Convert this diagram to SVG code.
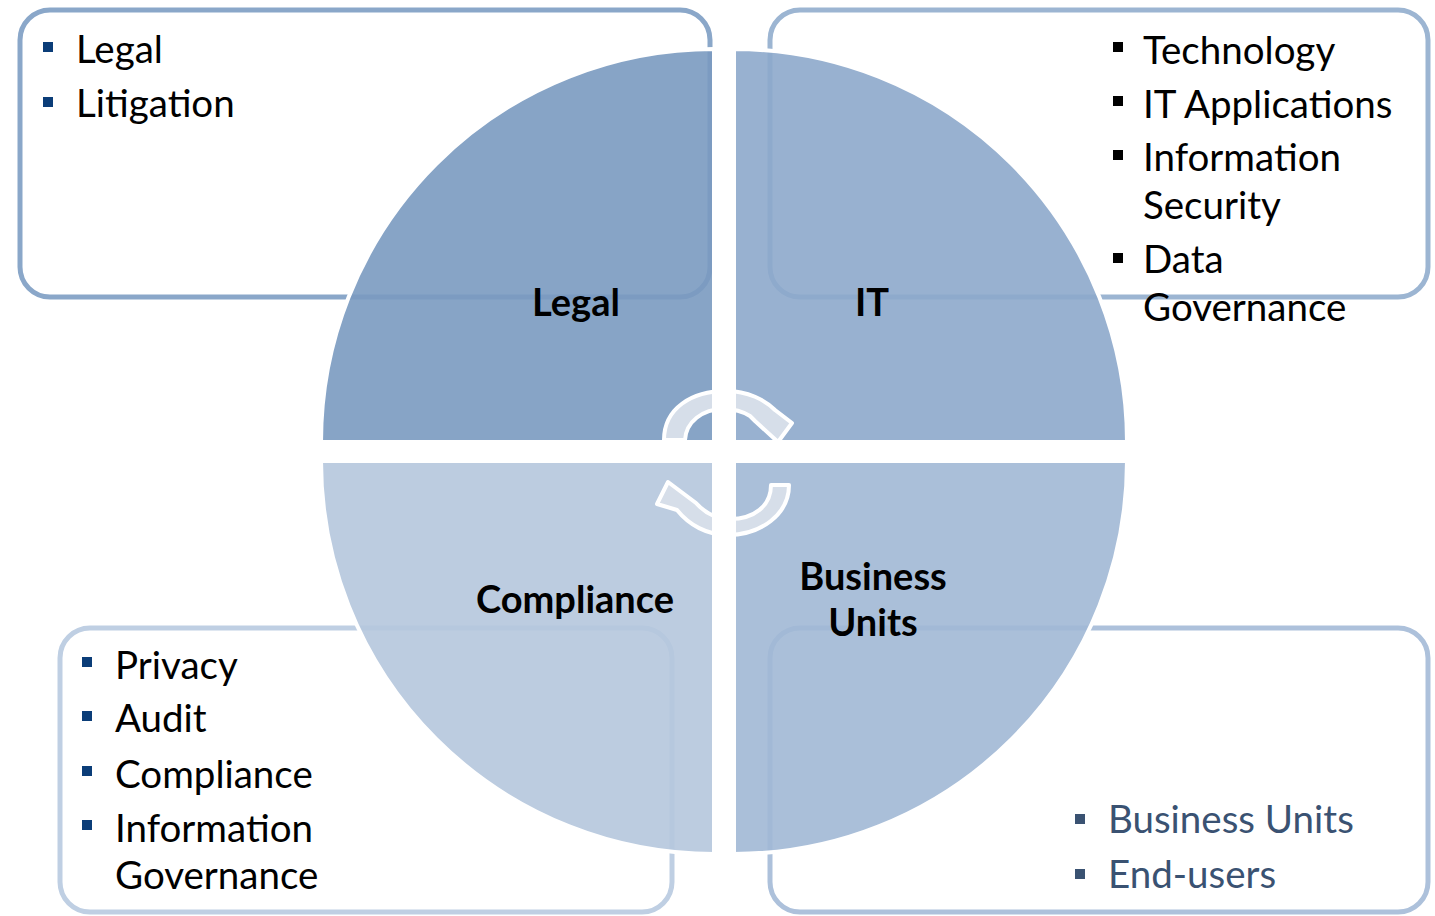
<svg xmlns="http://www.w3.org/2000/svg" width="1435" height="916" viewBox="0 0 1435 916">
<style>
.box{fill:#ffffff;stroke-width:5}
.q{stroke:#ffffff;stroke-width:4;fill-opacity:0.9}
.t{font-family:Lato,"Liberation Sans",sans-serif;font-size:38.5px;fill:#000000}
.lbl{font-family:Lato,"Liberation Sans",sans-serif;font-size:38px;font-weight:bold;fill:#000000;text-anchor:middle}
.arr{fill:#d6dee9;stroke:#ffffff;stroke-width:4;stroke-linejoin:round}
</style>
<rect width="1435" height="916" fill="#ffffff"/>
<g id="box-legal"><rect class="box" x="20" y="10" width="690" height="287" rx="30" stroke="#8aa7c9"/></g>
<g id="box-it"><rect class="box" x="770" y="10" width="658" height="287" rx="30" stroke="#9cb5d2"/></g>
<g id="box-compliance"><rect class="box" x="60" y="628" width="612" height="284" rx="30" stroke="#bfcfe3"/></g>
<g id="box-business"><rect class="box" x="770" y="628" width="658" height="284" rx="30" stroke="#adc1db"/></g>
<g id="quadrants">
<path id="q-legal" class="q" fill="#7a9ac0" d="M714 442 L321 442 A393 393 0 0 1 714 49 Z"/>
<path id="q-it" class="q" fill="#8da9cb" d="M734 442 L734 49 A393 393 0 0 1 1127 442 Z"/>
<path id="q-compliance" class="q" fill="#b5c6dd" d="M714 461 L714 854 A393 393 0 0 1 321 461 Z"/>
<path id="q-business" class="q" fill="#a1b8d5" d="M734 461 L1127 461 A393 393 0 0 1 734 854 Z"/>
</g>
<g id="connectors">
<path class="arr" d="M664 440 C664 408 692 391 726 391 C748 391 765 400 775 410 L792 423 L778 442 L755 421 L750 416 C742 411 735 409 724 409 C702 409 686 422 685 440 Z"/>
<path class="arr" d="M789 485 C789 515 760 535 728 535 C707 535 689 525 677 510 L657 504 L668 482 L696 503 C705 513 716 519 730 519 C754 519 771 506 771 485 Z"/>
<rect x="712" y="380" width="24" height="170" fill="#ffffff"/>
<rect x="640" y="440" width="170" height="23" fill="#ffffff"/>
</g>
<g id="labels">
<text class="lbl" x="576" y="316">Legal</text>
<text class="lbl" x="872" y="316">IT</text>
<text class="lbl" x="575" y="613">Compliance</text>
<text class="lbl" x="873" y="590">Business</text>
<text class="lbl" x="873" y="636">Units</text>
</g>
<g id="list-legal" fill="#0b3d78">
<rect x="43" y="42" width="10" height="10"/>
<rect x="43" y="97" width="10" height="10"/>
<text class="t" x="76" y="63">Legal</text>
<text class="t" x="76" y="117">Litigation</text>
</g>
<g id="list-it" fill="#000000">
<rect x="1113" y="42" width="10" height="10"/>
<rect x="1113" y="96" width="10" height="10"/>
<rect x="1113" y="150" width="10" height="10"/>
<rect x="1113" y="253" width="10" height="10"/>
<text class="t" x="1143" y="64">Technology</text>
<text class="t" x="1143" y="118">IT Applications</text>
<text class="t" x="1143" y="171">Information</text>
<text class="t" x="1143" y="219">Security</text>
<text class="t" x="1143" y="273">Data</text>
<text class="t" x="1143" y="321">Governance</text>
</g>
<g id="list-compliance" fill="#0b3d78">
<rect x="82" y="657" width="10" height="10"/>
<rect x="82" y="711" width="10" height="10"/>
<rect x="82" y="766" width="10" height="10"/>
<rect x="82" y="820" width="10" height="10"/>
<text class="t" x="115" y="679">Privacy</text>
<text class="t" x="115" y="732">Audit</text>
<text class="t" x="115" y="788">Compliance</text>
<text class="t" x="115" y="842">Information</text>
<text class="t" x="115" y="889">Governance</text>
</g>
<g id="list-business" fill="#3a5272">
<rect x="1075" y="814" width="10" height="10"/>
<rect x="1075" y="869" width="10" height="10"/>
<text class="t" x="1108" y="833" style="fill:#3a5272">Business Units</text>
<text class="t" x="1108" y="888" style="fill:#3a5272">End-users</text>
</g>
</svg>
